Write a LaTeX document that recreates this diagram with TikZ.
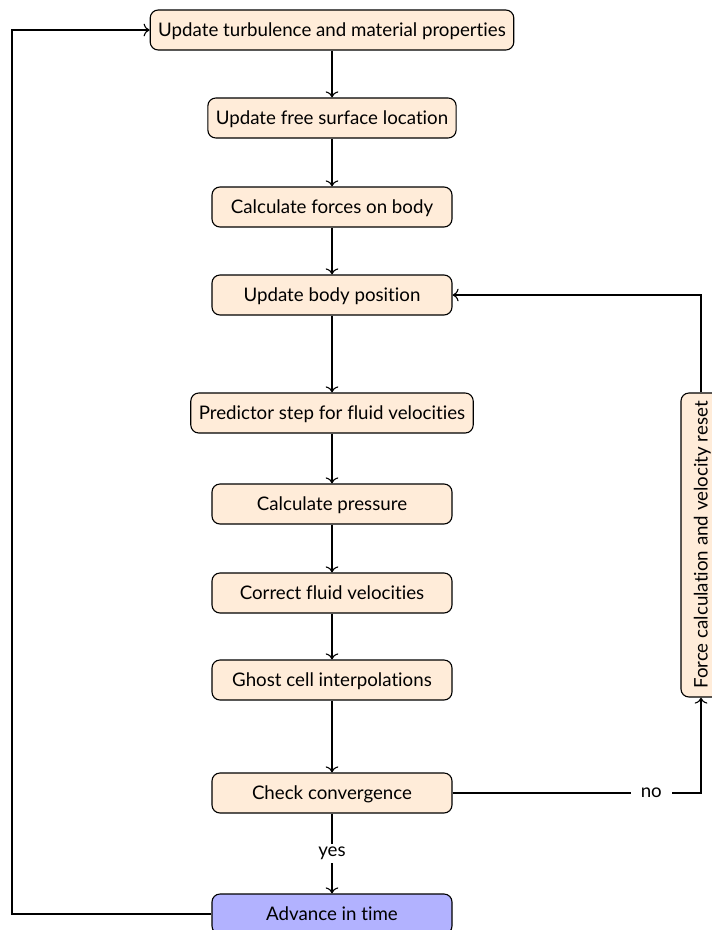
\documentclass[tikz,border=0pt]{standalone}
\usepackage{fontspec}
\setmainfont{Lato}[Ligatures={NoCommon}]
\usetikzlibrary{arrows,arrows.meta}
\usepackage{xcolor}

\tikzset{
  stepbox/.style={draw, rounded corners=8pt, fill=orange!15, minimum height=40pt,
    minimum width=240pt, inner xsep=8pt, text height=14pt, text depth=1pt,
    font=\fontsize{18.7}{22}\selectfont, line width=1.1pt},
  timebox/.style={stepbox, fill=blue!30},
  flowlabel/.style={fill=white, inner xsep=10pt, font=\fontsize{18.7}{22}\selectfont},
  flow/.style={-{To[scale=1.5]}, line width=1.1pt}
}

\begin{document}
\begin{tikzpicture}[x=1pt,y=-1pt]
  \useasboundingbox (0,0) rectangle (712,930);

  \node[stepbox] (turb) at (332,30) {Update turbulence and material properties};
  \node[stepbox] (surf) at (332,118) {Update free surface location};
  \node[stepbox] (forces) at (332,207) {Calculate forces on body};
  \node[stepbox] (body) at (332,295) {Update body position};
  \node[stepbox] (pred) at (332,413) {Predictor step for fluid velocities};
  \node[stepbox] (press) at (332,504) {Calculate pressure};
  \node[stepbox] (corr) at (332,593) {Correct fluid velocities};
  \node[stepbox] (ghost) at (332,680) {Ghost cell interpolations};
  \node[stepbox] (conv) at (332,793) {Check convergence};
  \node[timebox] (adv) at (332,914) {Advance in time};
  % reset loop on the right
  \node[stepbox, rotate=90, minimum width=304pt] (reset) at (701,545) {Force calculation and velocity reset};

  \draw[flow] (turb) -- (surf);
  \draw[flow] (surf) -- (forces);
  \draw[flow] (forces) -- (body);
  \draw[flow] (body) -- (pred);
  \draw[flow] (pred) -- (press);
  \draw[flow] (press) -- (corr);
  \draw[flow] (corr) -- (ghost);
  \draw[flow] (ghost) -- (conv);
  \draw[flow] (conv) -- node[flowlabel, inner xsep=3pt]{yes} (adv);
  \draw[flow] (conv.east) -| node[pos=0.4, flowlabel]{no} (reset.west);
  \draw[flow] (reset.east) |- (body.east);
  \coordinate (back) at (12,914);
  \draw[flow] (adv.west) -- (back) |- (turb.west);
\end{tikzpicture}
\end{document}
